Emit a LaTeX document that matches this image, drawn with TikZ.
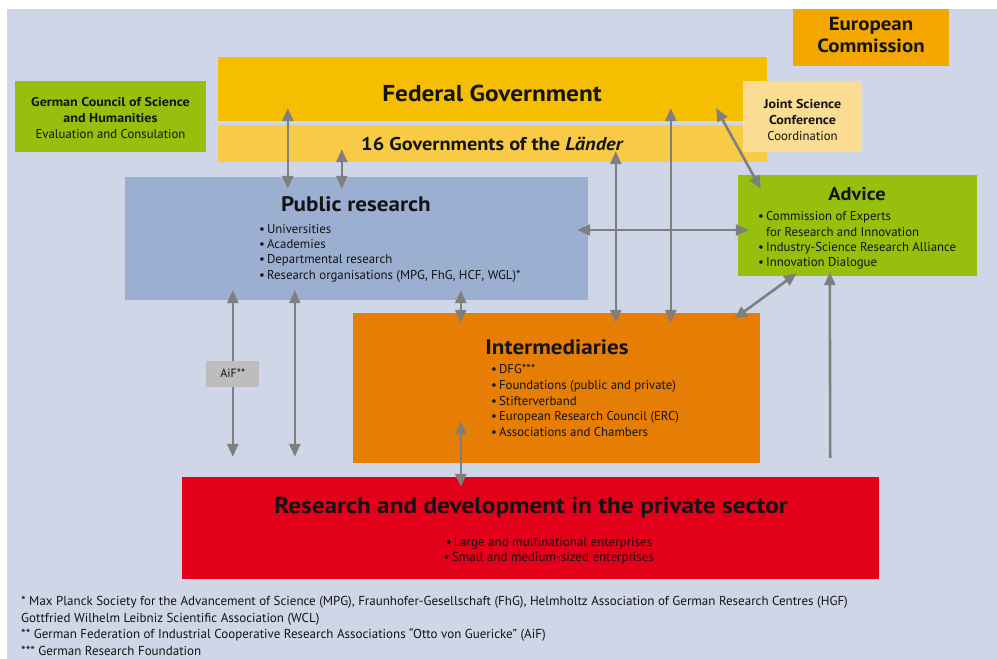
\documentclass[tikz,border=0pt]{standalone}
\usepackage{fontspec}
\setmainfont{PT Sans}[BoldFeatures={FakeStretch=1.1}, BoldItalicFeatures={FakeStretch=1.1}]
\usetikzlibrary{positioning,calc,arrows.meta}

\definecolor{bgblue}{HTML}{CED6E7}
\definecolor{ecorange}{HTML}{F4A700}
\definecolor{fedgold}{HTML}{F6BE00}
\definecolor{laendergold}{HTML}{F8CA45}
\definecolor{jscyellow}{HTML}{FADC93}
\definecolor{advgreen}{HTML}{97BF0D}
\definecolor{pubblue}{HTML}{9BAFD0}
\definecolor{intorange}{HTML}{E67D05}
\definecolor{rdred}{HTML}{E2001A}
\definecolor{aifgray}{HTML}{BDBDBD}
\definecolor{arrowgray}{HTML}{7F7F7F}
\definecolor{textdark}{HTML}{141414}

\newcommand{\bul}{\textbullet\,}

\tikzset{
  box/.style={rectangle, inner sep=0pt, align=center, text=textdark},
  boxtitle/.style={font=\bfseries\fontsize{21}{24}\selectfont, text=textdark, inner sep=0pt},
  itemlist/.style={font=\fontsize{12.8}{15.3}\selectfont, align=left, anchor=north west, inner sep=0pt, text=textdark},
  link/.style={draw=arrowgray, line width=2.6pt, {Triangle[length=13pt,width=11pt]}-{Triangle[length=13pt,width=11pt]}},
  uplink/.style={draw=arrowgray, line width=2.6pt, -{Triangle[length=13pt,width=11pt]}},
}

\begin{document}
\begin{tikzpicture}[x=1pt,y=-1pt]
\useasboundingbox (0,0) rectangle (997,659);
\fill[bgblue] (7,9) rectangle (997,659);

% government level
\node[box, fill=ecorange, minimum width=156pt, minimum height=57pt] (ec) at (871,37.5) {};
\node[box, font=\bfseries\fontsize{19}{22}\selectfont] (ecT) at (871,35) {European\\Commission};
\node[box, fill=fedgold, minimum width=549pt, minimum height=64pt] (fed) at (492.5,89) {};
\node[boxtitle, font=\bfseries\fontsize{23}{26}\selectfont] (fedT) at (492,93) {Federal Government};
\node[box, fill=laendergold, minimum width=549pt, minimum height=37pt, font=\bfseries\fontsize{18.5}{20}\selectfont] (laender) at (492.5,143.5) {16 Governments of the \textit{Länder}};
\node[box, fill=advgreen, minimum width=191pt, minimum height=71pt] (council) at (110.5,116.5) {};
\node[box, font=\fontsize{12.8}{16.3}\selectfont] (councilT) at (110.5,118) {\textbf{German Council of Science}\\\textbf{and Humanities}\\Evaluation and Consulation};
\node[box, fill=jscyellow, minimum width=119pt, minimum height=71pt] (jsc) at (802.5,116.5) {};
\node[box, font=\fontsize{12.8}{16}\selectfont] (jscT) at (802.5,120) {\textbf{Joint Science}\\\textbf{Conference}\\Coordination};

% research and funding boxes
\node[box, fill=pubblue, minimum width=463pt, minimum height=123pt] (pub) at (356.5,238.5) {};
\node[boxtitle] (pubT) at (356,204) {Public research};
\node[itemlist] (pubL) at (259,224) {\bul Universities\\\bul Academies\\\bul Departmental research\\\bul Research organisations (MPG, FhG, HCF, WGL)*};

\node[box, fill=advgreen, minimum width=239pt, minimum height=101pt] (advice) at (857.5,225.5) {};
\node[boxtitle, font=\bfseries\fontsize{18.5}{22}\selectfont] (adviceT) at (857,194) {Advice};
\node[itemlist] (adviceL) at (758,211.5) {\bul Commission of Experts\\\phantom{\bul}for Research and Innovation\\\bul Industry-Science Research Alliance\\\bul Innovation Dialogue};

\node[box, fill=intorange, minimum width=407pt, minimum height=150pt] (interm) at (556.5,388) {};
\node[boxtitle] (intermT) at (557,347) {Intermediaries};
\node[itemlist, font=\fontsize{12.8}{15.6}\selectfont] (intermL) at (491,364.5) {\bul DFG***\\\bul Foundations (public and private)\\\bul Stifterverband\\\bul European Research Council (ERC)\\\bul Associations and Chambers};

\node[box, fill=rdred, minimum width=697pt, minimum height=102pt] (rd) at (530.5,528) {};
\node[boxtitle, font=\bfseries\fontsize{23}{26}\selectfont] (rdT) at (531,508) {Research and development in the private sector};
\node[box, font=\fontsize{13}{15}\selectfont] (rdL) at (549,550.5) {\bul Large and multinational enterprises\\\bul Small and medium-sized enterprises};

% connections
\draw[link] ($(fed.south west)+(70,-13)$) -- ($(pub.north west)+(163,12)$);
\draw[link] ($(laender.south west)+(124,-13)$) -- ($(pub.north west)+(217,12)$);
\draw[link] ($(laender.south west)+(398,-11)$) -- ($(interm.north west)+(263,10)$);
\draw[link] ($(fed.south west)+(453,-13)$) -- ($(interm.north west)+(318,10)$);
\draw[link] ($(fed.south east)+(-51,-13)$) -- ($(advice.north west)+(23,14)$);
\draw[link] ($(pub.east)+(-11,-8.5)$) -- ($(advice.west)+(11,4.5)$);
\draw[link] ($(advice.south west)+(59,-3)$) -- ($(interm.north east)+(-26,6)$);
\draw[uplink] ($(rd.north east)+(-49,-19)$) -- ($(advice.south west)+(92,-4)$);
\draw[link] ($(pub.south west)+(108,-10)$) -- node[box, fill=aifgray, minimum width=53pt, minimum height=26pt, font=\fontsize{12}{14}\selectfont] (aif) {AiF**} ($(rd.north west)+(51,-20)$);
\draw[link] ($(pub.south west)+(170,-10)$) -- ($(rd.north west)+(113,-20)$);
\draw[link] ($(pub.south west)+(336,-10)$) -- ($(interm.north west)+(108,10)$);
\draw[link] ($(interm.south west)+(108,-42)$) -- ($(rd.north west)+(279,10)$);

% footnotes
\node[itemlist, font=\fontsize{13}{16.7}\selectfont] (notes) at (21,596) {* Max Planck Society for the Advancement of Science (MPG), Fraunhofer-Gesellschaft (FhG), Helmholtz Association of German Research Centres (HGF)\\Gottfried Wilhelm Leibniz Scientific Association (WCL)\\** German Federation of Industrial Cooperative Research Associations “Otto von Guericke” (AiF)\\*** German Research Foundation};
\end{tikzpicture}
\end{document}
